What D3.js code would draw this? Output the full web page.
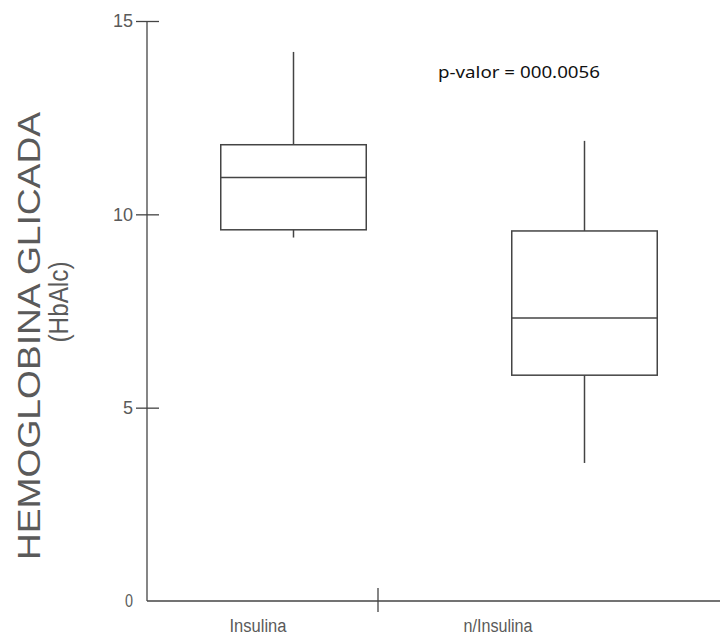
<!DOCTYPE html>
<html>
<head>
<meta charset="utf-8">
<script src="https://cdn.jsdelivr.net/npm/d3@7"></script>
<style>
  body { margin: 0; background: #fff; }
  svg { display: block; }
</style>
</head>
<body>
<svg></svg>
<script>
// values
const categories = ['Insulina', 'n/Insulina'];
const whiskerTop = [14.2, 11.9];
const q3 = [11.8, 9.57];
const median = [10.95, 7.32];
const q1 = [9.6, 5.84];
const whiskerBottom = [9.4, 3.57];
const yTicks = [0, 5, 10, 15];
const pText = 'p-valor = 000.0056';

const width = 720;
const height = 637;
const axisColor = '#444';
const textColor = '#5a5a5a';

const svg = d3.select('svg')
    .attr('width', width)
    .attr('height', height);

const y = d3.scaleLinear()
    .domain([0, 15])
    .range([601, 21]);

// boxes and labels are not on the same positions in the original
const xBox = d3.scaleBand()
    .domain(categories)
    .range([148, 730])
    .paddingInner(0.5)
    .paddingOuter(0.25);

const xLabel = d3.scaleBand()
    .domain(categories)
    .range([138, 618]);

const x0 = 147;

// y axis
const yAxis = d3.axisLeft(y)
    .tickValues(yTicks)
    .tickSize(11)
    .tickPadding(3)
    .tickFormat(d3.format('d'));

const gy = svg.append('g')
    .attr('transform', 'translate(' + x0 + ',0)')
    .call(yAxis);
gy.select('.domain').remove();
gy.selectAll('.tick line')
    .attr('x2', -11)
    .attr('x1', 12)
    .attr('stroke', axisColor)
    .attr('stroke-width', 1.3);
gy.selectAll('.tick').filter(d => d === 0).select('line').remove();
gy.selectAll('.tick text')
    .attr('x', -14)
    .attr('fill', textColor)
    .style('font-family', 'Liberation Sans, Arial, sans-serif')
    .style('font-size', '18px');
gy.selectAll('.tick').filter(d => d === 0).select('text')
    .attr('textLength', 8)
    .attr('lengthAdjust', 'spacingAndGlyphs');

svg.append('line')
    .attr('x1', x0).attr('x2', x0)
    .attr('y1', y(15)).attr('y2', y(0))
    .attr('stroke', axisColor)
    .attr('stroke-width', 1.3);

// x axis
svg.append('line')
    .attr('x1', x0).attr('x2', width)
    .attr('y1', y(0)).attr('y2', y(0))
    .attr('stroke', axisColor)
    .attr('stroke-width', 1.3);

const mid = xLabel(categories[1]);
svg.append('line')
    .attr('x1', mid).attr('x2', mid)
    .attr('y1', y(0) - 13).attr('y2', y(0) + 11)
    .attr('stroke', axisColor)
    .attr('stroke-width', 1.3);

const labelWidths = [57, 69];
svg.selectAll('text.xlab')
    .data(categories)
    .enter()
    .append('text')
    .attr('class', 'xlab')
    .attr('x', d => xLabel(d) + xLabel.bandwidth() / 2)
    .attr('y', 632)
    .attr('text-anchor', 'middle')
    .attr('fill', textColor)
    .attr('textLength', (d, i) => labelWidths[i])
    .attr('lengthAdjust', 'spacingAndGlyphs')
    .style('font-family', 'Liberation Sans, Arial, sans-serif')
    .style('font-size', '18px')
    .text(d => d);

// boxes
const boxes = svg.selectAll('g.box')
    .data(categories)
    .enter()
    .append('g')
    .attr('class', 'box');

const cx = (d) => xBox(d) + xBox.bandwidth() / 2;

boxes.append('line')
    .attr('x1', cx).attr('x2', cx)
    .attr('y1', (d, i) => y(whiskerTop[i]))
    .attr('y2', (d, i) => y(q3[i]))
    .attr('stroke', axisColor)
    .attr('stroke-width', 1.5);

boxes.append('line')
    .attr('x1', cx).attr('x2', cx)
    .attr('y1', (d, i) => y(q1[i]))
    .attr('y2', (d, i) => y(whiskerBottom[i]))
    .attr('stroke', axisColor)
    .attr('stroke-width', 1.5);

boxes.append('rect')
    .attr('x', d => xBox(d))
    .attr('width', xBox.bandwidth())
    .attr('y', (d, i) => y(q3[i]))
    .attr('height', (d, i) => y(q1[i]) - y(q3[i]))
    .attr('fill', 'none')
    .attr('stroke', axisColor)
    .attr('stroke-width', 1.5);

boxes.append('line')
    .attr('x1', d => xBox(d))
    .attr('x2', d => xBox(d) + xBox.bandwidth())
    .attr('y1', (d, i) => y(median[i]))
    .attr('y2', (d, i) => y(median[i]))
    .attr('stroke', axisColor)
    .attr('stroke-width', 1.5);

// y title
svg.append('text')
    .attr('transform', 'translate(40,336) rotate(-90)')
    .attr('text-anchor', 'middle')
    .attr('fill', textColor)
    .attr('textLength', 448)
    .attr('lengthAdjust', 'spacingAndGlyphs')
    .style('font-family', 'Liberation Sans, Arial, sans-serif')
    .style('font-size', '32px')
    .text('HEMOGLOBINA GLICADA');

svg.append('text')
    .attr('transform', 'translate(68,302) rotate(-90)')
    .attr('text-anchor', 'middle')
    .attr('fill', textColor)
    .attr('textLength', 81)
    .attr('lengthAdjust', 'spacingAndGlyphs')
    .style('font-family', 'Liberation Sans, Arial, sans-serif')
    .style('font-size', '27px')
    .text('(HbAlc)');

// p value
svg.append('text')
    .attr('x', 438)
    .attr('y', 78)
    .attr('fill', '#111')
    .attr('textLength', 162)
    .attr('lengthAdjust', 'spacingAndGlyphs')
    .style('font-family', 'Noto Sans, sans-serif')
    .style('font-size', '17px')
    .text(pText);
</script>
</body>
</html>
